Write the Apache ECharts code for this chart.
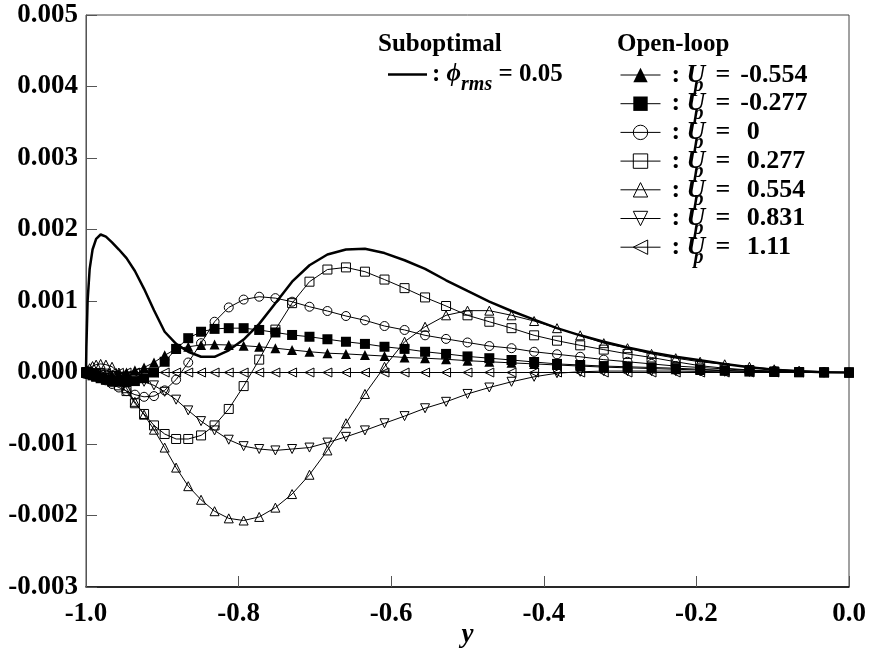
<!DOCTYPE html>
<html><head><meta charset="utf-8">
<script src="https://cdn.jsdelivr.net/npm/echarts@6/dist/echarts.min.js"></script>
<style>html,body{margin:0;padding:0;background:#fff}#c{width:870px;height:652px}</style>
</head><body><div id="c"></div>
<script>
// wall-normal coordinate y (grid points)
const Y_GRID = [-1.0000, -0.9995, -0.9979, -0.9952, -0.9914, -0.9867, -0.9808, -0.9739, -0.9659, -0.9569,
  -0.9469, -0.9359, -0.9239, -0.9109, -0.8969, -0.8819, -0.8660, -0.8492, -0.8315, -0.8129,
  -0.7934, -0.7730, -0.7518, -0.7299, -0.7071, -0.6836, -0.6593, -0.6344, -0.6088, -0.5825,
  -0.5556, -0.5281, -0.5000, -0.4714, -0.4423, -0.4127, -0.3827, -0.3523, -0.3214, -0.2903,
  -0.2588, -0.2271, -0.1951, -0.1629, -0.1305, -0.0980, -0.0654, -0.0327, 0.0000];

// values in units of 1e-3
const SCALE = 0.001;
const SUBOPT_PHI005 = [0, 0.35, 1.0, 1.45, 1.72, 1.87, 1.93, 1.90, 1.82, 1.72,
  1.60, 1.42, 1.17, 0.87, 0.57, 0.40, 0.29, 0.22, 0.22, 0.31,
  0.46, 0.68, 0.97, 1.27, 1.50, 1.65, 1.72, 1.73, 1.67, 1.57,
  1.45, 1.29, 1.14, 0.99, 0.86, 0.74, 0.62, 0.52, 0.43, 0.35,
  0.28, 0.22, 0.17, 0.12, 0.075, 0.04, 0.018, 0.005, 0];
const UP_M0554 = [0, 0, -0.01, -0.02, -0.03, -0.04, -0.05, -0.05, -0.04, -0.02,
  0.0, 0.03, 0.07, 0.14, 0.24, 0.33, 0.36, 0.385, 0.39, 0.385,
  0.375, 0.36, 0.34, 0.315, 0.29, 0.27, 0.26, 0.245, 0.23, 0.21,
  0.20, 0.185, 0.165, 0.15, 0.135, 0.12, 0.105, 0.09, 0.075, 0.065,
  0.055, 0.045, 0.035, 0.025, 0.018, 0.012, 0.006, 0.002, 0];
const UP_M0277 = [0, 0, -0.01, -0.02, -0.04, -0.06, -0.08, -0.10, -0.12, -0.13,
  -0.13, -0.12, -0.08, 0.0, 0.15, 0.33, 0.48, 0.57, 0.61, 0.62,
  0.62, 0.595, 0.56, 0.525, 0.50, 0.465, 0.43, 0.40, 0.36, 0.33,
  0.29, 0.26, 0.225, 0.20, 0.175, 0.147, 0.12, 0.105, 0.09, 0.08,
  0.07, 0.06, 0.045, 0.03, 0.015, 0.008, 0.003, 0.001, 0];
const UP_0 = [0, 0, 0, -0.01, -0.02, -0.04, -0.07, -0.11, -0.16, -0.21,
  -0.26, -0.31, -0.34, -0.33, -0.25, -0.10, 0.14, 0.41, 0.71, 0.91,
  1.02, 1.06, 1.04, 0.99, 0.92, 0.86, 0.79, 0.73, 0.65, 0.595,
  0.52, 0.47, 0.42, 0.37, 0.34, 0.29, 0.255, 0.22, 0.18, 0.15,
  0.12, 0.09, 0.07, 0.05, 0.03, 0.02, 0.01, 0.003, 0];
const UP_0277 = [0, 0, -0.01, -0.02, -0.03, -0.05, -0.07, -0.10, -0.13, -0.18,
  -0.26, -0.43, -0.58, -0.74, -0.86, -0.93, -0.93, -0.88, -0.74, -0.51,
  -0.19, 0.18, 0.60, 0.97, 1.27, 1.44, 1.47, 1.41, 1.30, 1.18,
  1.05, 0.93, 0.80, 0.71, 0.62, 0.52, 0.445, 0.38, 0.32, 0.26,
  0.21, 0.15, 0.095, 0.06, 0.035, 0.015, 0.006, 0.002, 0];
const UP_0554 = [0, 0.01, 0.03, 0.06, 0.09, 0.11, 0.12, 0.11, 0.08, 0.0,
  -0.22, -0.41, -0.59, -0.80, -1.05, -1.33, -1.59, -1.78, -1.94, -2.04,
  -2.07, -2.02, -1.89, -1.70, -1.43, -1.09, -0.71, -0.30, 0.08, 0.43,
  0.64, 0.80, 0.865, 0.865, 0.80, 0.72, 0.62, 0.52, 0.41, 0.34,
  0.26, 0.20, 0.15, 0.115, 0.08, 0.045, 0.025, 0.01, 0];
const UP_0831 = [0, 0, 0, -0.005, -0.01, -0.02, -0.03, -0.04, -0.05, -0.06,
  -0.08, -0.10, -0.13, -0.18, -0.27, -0.38, -0.53, -0.68, -0.81, -0.94,
  -1.03, -1.07, -1.09, -1.07, -1.05, -0.98, -0.90, -0.81, -0.71, -0.61,
  -0.50, -0.41, -0.30, -0.21, -0.13, -0.06, -0.01, 0.01, 0.02, 0.02,
  0.02, 0.02, 0.015, 0.01, 0.008, 0.005, 0.002, 0.001, 0];
const UP_111 = [0, -0.005, -0.01, -0.015, -0.02, -0.02, -0.02, -0.015, -0.01, -0.005,
  0, 0, 0, 0, 0, 0, 0, 0, 0, 0,
  0, 0, 0, 0, 0, 0, 0, 0, 0, 0,
  0, 0, 0, 0, 0, 0, 0, 0, 0, 0,
  0, 0, 0, 0, 0, 0, 0, 0, 0];

const UP_NAMES = ['Up=-0.554', 'Up=-0.277', 'Up=0', 'Up=0.277', 'Up=0.554', 'Up=0.831', 'Up=1.11'];
const UP_LABELS = ['-0.554', '-0.277', ' 0', ' 0.277', ' 0.554', ' 0.831', ' 1.11'];
const UP_VALUES = [UP_M0554, UP_M0277, UP_0, UP_0277, UP_0554, UP_0831, UP_111];
const UP_SYMBOLS = ['triangle', 'rect', 'circle', 'rect', 'triangle', 'triangle', 'triangle'];
const UP_ROTATE = [0, 0, 0, 0, 0, 180, 90];
const UP_FILLED = [true, true, false, false, false, false, false];

const X_MIN = -1, X_MAX = 0, X_STEP = 0.2;
const Y_MIN = -0.003, Y_MAX = 0.005, Y_STEP = 0.001;

const SERIF = "'Liberation Serif', 'DejaVu Serif', serif";

function pairs(vals) { return Y_GRID.map((y, i) => [y, vals[i] * SCALE]); }
function fix(v, d) { if (Math.abs(v) < 1e-12) v = 0; return v.toFixed(d); }

const main = { fontFamily: SERIF, fontWeight: 'bold', fontSize: 26, lineHeight: 24, color: '#000' };
const mainS = { fontFamily: SERIF, fontWeight: 'bold', fontSize: 25, lineHeight: 24, color: '#000' };
const sub = { fontFamily: SERIF, fontWeight: 'bold', fontStyle: 'italic', fontSize: 20, lineHeight: 10, padding: [21, 0, 0, 0], color: '#000' };

const series = [{
  name: 'phi', type: 'line', data: pairs(SUBOPT_PHI005), symbol: 'none', clip: false,
  lineStyle: { color: '#000', width: 2.5 }, itemStyle: { color: '#000' }, z: 3,
  emphasis: { disabled: true }
}];
UP_NAMES.forEach((n, i) => {
  series.push({
    name: n, type: 'line', data: pairs(UP_VALUES[i]), clip: false,
    symbol: UP_SYMBOLS[i], symbolRotate: UP_ROTATE[i],
    symbolSize: UP_FILLED[i] ? 10 : 9,
    showSymbol: true,
    itemStyle: UP_FILLED[i] ? { color: '#000', borderWidth: 0 } : { color: 'rgba(255,255,255,0)', borderColor: '#000', borderWidth: 1 },
    lineStyle: { color: '#000', width: 1 },
    emphasis: { disabled: true }, z: 2
  });
});

const chart = echarts.init(document.getElementById('c'), null, { renderer: 'canvas' });
chart.setOption({
  animation: false,
  backgroundColor: '#fff',
  grid: { left: 86, right: 21, top: 15, bottom: 65, containLabel: false, outerBoundsMode: 'none',
          show: true, borderColor: '#444', borderWidth: 1 },
  xAxis: {
    type: 'value', min: X_MIN, max: X_MAX, interval: X_STEP,
    name: 'y', nameLocation: 'middle', nameGap: 35, nameMoveOverlap: false,
    nameTextStyle: { fontFamily: SERIF, fontWeight: 'bold', fontStyle: 'italic', fontSize: 27, color: '#000' },
    axisLine: { show: true, onZero: false, lineStyle: { color: '#000', width: 1.5 } },
    axisTick: { show: true, inside: true, length: 11, lineStyle: { color: '#555', width: 1 } },
    axisLabel: { margin: 14, fontFamily: SERIF, fontWeight: 'bold', fontSize: 27, color: '#000', formatter: v => fix(v, 1) },
    splitLine: { show: false }
  },
  yAxis: {
    type: 'value', min: Y_MIN, max: Y_MAX, interval: Y_STEP,
    axisLine: { show: true, onZero: false, lineStyle: { color: '#555', width: 1 } },
    axisTick: { show: true, inside: true, length: 11, lineStyle: { color: '#555', width: 1 } },
    axisLabel: { margin: 8, fontFamily: SERIF, fontWeight: 'bold', fontSize: 27, color: '#000', formatter: v => fix(v, 3) },
    splitLine: { show: false }
  },
  legend: [{
    data: [{ name: 'phi', icon: 'rect' }],
    left: 388, top: 54, orient: 'vertical', padding: 0,
    itemWidth: 39, itemHeight: 2.5, selectedMode: false,
    formatter: () => '{c|: }{phi|\u03D5}{s|rms}{t| = 0.05}',
    textStyle: { rich: { c: mainS, phi: Object.assign({}, mainS, { fontStyle: 'italic' }), s: sub, t: mainS } }
  }, {
    data: UP_NAMES,
    left: 620, top: 54.5, orient: 'vertical', padding: 0,
    itemWidth: 40, itemHeight: 18, itemGap: -12.3, selectedMode: false,
    itemStyle: { borderWidth: 1 },
    lineStyle: { width: 1 },
    formatter: name => '{c|:}{u|U}{s|p}{e|=}{v|' + UP_LABELS[UP_NAMES.indexOf(name)] + '}',
    textStyle: { rich: {
      c: Object.assign({}, main, { padding: [0, 0, 0, 6], width: 15 }),
      u: Object.assign({}, main, { fontStyle: 'italic', width: 7 }),
      s: sub,
      e: Object.assign({}, main, { padding: [0, 0, 0, 12] }),
      v: Object.assign({}, main, { padding: [0, 0, 0, 10] }) } }
  }],
  graphic: [
    { type: 'text', x: 378, y: 45, style: { text: 'Suboptimal', font: 'bold 25px ' + SERIF, fill: '#000', align: 'left', verticalAlign: 'middle' } },
    { type: 'text', x: 617, y: 45, style: { text: 'Open-loop', font: 'bold 25px ' + SERIF, fill: '#000', align: 'left', verticalAlign: 'middle' } }
  ],
  series: series
});
</script></body></html>
